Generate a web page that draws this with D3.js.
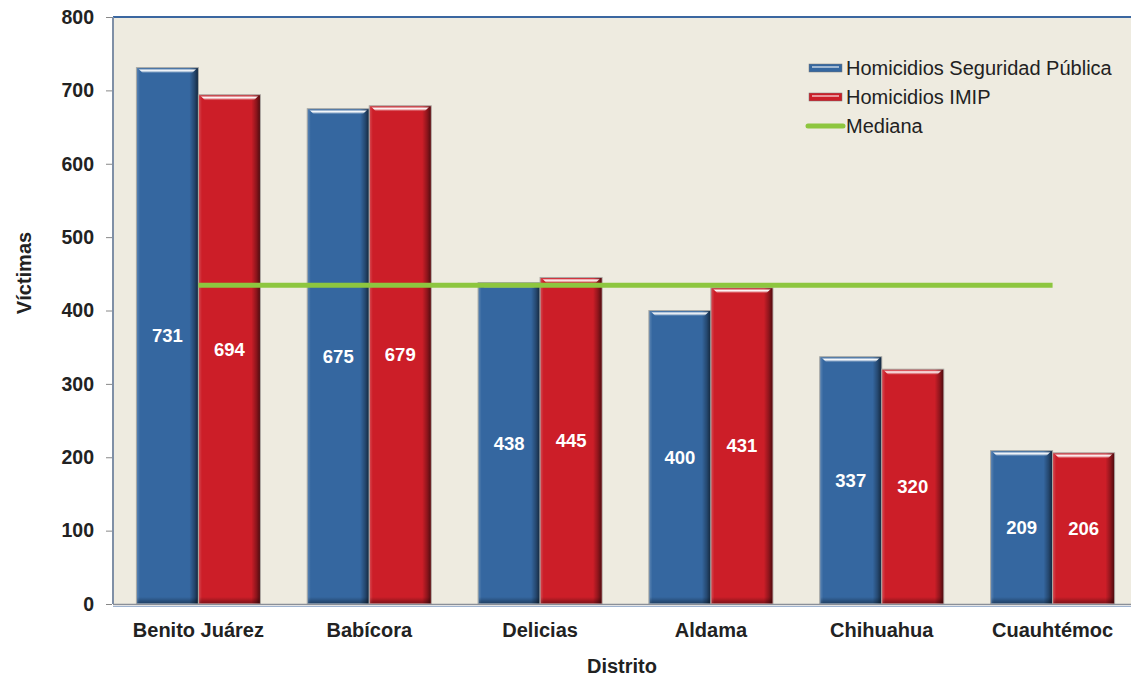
<!DOCTYPE html>
<html><head><meta charset="utf-8">
<script src="https://cdn.jsdelivr.net/npm/d3@7"></script>
<style>body{margin:0;background:#fff;}svg{display:block;font-family:"Liberation Sans",Arial,sans-serif;}</style>
</head><body>
<svg id="c" width="1131" height="677"></svg>
<script>
const categories = ["Benito Juárez","Babícora","Delicias","Aldama","Chihuahua","Cuauhtémoc"];
const seguridadPublica = [731,675,438,400,337,209];
const imip = [694,679,445,431,320,206];
const mediana = 434.5;
const seriesNames = ["Homicidios Seguridad Pública","Homicidios IMIP","Mediana"];
const yTicks = [0,100,200,300,400,500,600,700,800];
const axisTitles = {x:"Distrito", y:"Víctimas"};

const svg = d3.select("#c");
const L=113, R=1138, T=17, B=604;
const x = d3.scaleBand().domain(categories).range([L,R]).paddingInner(0.274).paddingOuter(0.137);
const x1 = d3.scaleBand().domain([0,1]).range([0,x.bandwidth()]);
const y = d3.scaleLinear().domain([0,800]).range([B,T]);

const defs = svg.append("defs");
function hgrad(id){
  const g=defs.append("linearGradient").attr("id",id).attr("x1","0").attr("x2","1").attr("y1","0").attr("y2","0");
  [[0,"#fff",0.18],[0.05,"#fff",0],[0.86,"#000",0],[0.94,"#000",0.3],[1,"#000",0.6]].forEach(s=>g.append("stop").attr("offset",s[0]).attr("stop-color",s[1]).attr("stop-opacity",s[2]));
}
hgrad("hg");
function vgrad(id,c){
  const g=defs.append("linearGradient").attr("id",id).attr("x1","0").attr("x2","0").attr("y1","0").attr("y2","1");
  [[0,"#fff",0.2],[0.35,"#fff",0.95],[0.6,"#fff",0.6],[1,c,0]].forEach(s=>g.append("stop").attr("offset",s[0]).attr("stop-color",s[1]).attr("stop-opacity",s[2]));
}
vgrad("tgB","#3567a0"); vgrad("tgR","#cc1e28");
function bgrad(id){
  const g=defs.append("linearGradient").attr("id",id).attr("x1","0").attr("x2","0").attr("y1","0").attr("y2","1");
  [[0,"#000",0],[1,"#000",0.35]].forEach(s=>g.append("stop").attr("offset",s[0]).attr("stop-color",s[1]).attr("stop-opacity",s[2]));
}
bgrad("bg");

// plot background
svg.append("rect").attr("x",L).attr("y",T).attr("width",R-L).attr("height",B-T).attr("fill","#eeebe0");
svg.append("line").attr("x1",L).attr("x2",R).attr("y1",T).attr("y2",T).attr("stroke","#3b67a0").attr("stroke-width",2);
svg.append("line").attr("x1",L).attr("x2",L).attr("y1",T).attr("y2",B).attr("stroke","#7f8fa6").attr("stroke-width",2);

// y axis
const yAxis = d3.axisLeft(y).tickValues(yTicks).tickSize(6).tickPadding(12);
const ga = svg.append("g").attr("transform",`translate(${L-1},0)`).call(yAxis);
ga.select(".domain").remove();
ga.selectAll(".tick line").attr("stroke","#888");
ga.selectAll(".tick text").attr("font-size",19.5).attr("font-weight","bold").attr("fill","#222").attr("font-family","Liberation Sans, Arial, sans-serif");

const colors=["#3567a0","#cc1e28"];
const tg=["url(#tgB)","url(#tgR)"];
const data=[];
categories.forEach((c,i)=>{data.push({c,s:0,v:seguridadPublica[i]});data.push({c,s:1,v:imip[i]});});

const bars = svg.append("g").selectAll("g").data(data).join("g")
  .attr("transform",d=>`translate(${x(d.c)+x1(d.s)},0)`);
const w = x1.bandwidth();
bars.append("rect").attr("x",0).attr("y",d=>y(d.v)).attr("width",w).attr("height",d=>B-y(d.v))
  .attr("fill",d=>colors[d.s]).attr("stroke","#a9a9a4").attr("stroke-width",1);
bars.append("rect").attr("x",0.5).attr("y",d=>y(d.v)+0.5).attr("width",w-1).attr("height",d=>B-y(d.v)-1).attr("fill","url(#hg)");
bars.append("rect").attr("x",1).attr("y",B-7).attr("width",w-2).attr("height",6).attr("fill","url(#bg)");
bars.append("path").attr("d",d=>{const t=y(d.v);return `M2,${t+1}L${w-2},${t+1}L${w-7},${t+6}L7,${t+6}Z`;})
  .attr("fill",d=>tg[d.s]);
bars.append("text").attr("x",w/2).attr("y",d=>y(d.v/2)+6.5).attr("text-anchor","middle")
  .attr("font-size",18.5).attr("font-weight","bold").attr("fill","#fff").text(d=>d.v);

// baseline
svg.append("line").attr("x1",L).attr("x2",R).attr("y1",B+0.5).attr("y2",B+0.5).attr("stroke","#8a8f98").attr("stroke-width",1.5);
svg.append("line").attr("x1",L).attr("x2",R).attr("y1",B+2.5).attr("y2",B+2.5).attr("stroke","#9fb3cf").attr("stroke-width",1);

// median line
const xc = c=>x(c)+x.bandwidth()/2;
svg.append("line").attr("x1",xc(categories[0])).attr("x2",xc(categories[categories.length-1]))
  .attr("y1",y(mediana)).attr("y2",y(mediana)).attr("stroke","#8dc63f").attr("stroke-width",5);

// x labels
const gx = svg.append("g").attr("transform",`translate(0,${B})`).call(d3.axisBottom(x).tickSize(0).tickPadding(19));
gx.select(".domain").remove();
gx.selectAll(".tick text").attr("font-size",20).attr("font-weight","bold").attr("fill","#222").attr("font-family","Liberation Sans, Arial, sans-serif");

svg.append("text").attr("x",622).attr("y",673).attr("text-anchor","middle").attr("font-size",20).attr("font-weight","bold").attr("fill","#222").text(axisTitles.x);
svg.append("text").attr("transform","translate(31,273) rotate(-90)").attr("text-anchor","middle").attr("font-size",20).attr("font-weight","bold").attr("fill","#222").text(axisTitles.y);

// legend
const lg = svg.append("g");
seriesNames.forEach((n,i)=>{
  const yy = 68+i*29;
  if(i<2){
    lg.append("rect").attr("x",809).attr("y",yy-4).attr("width",33).attr("height",8).attr("fill",colors[i]).attr("stroke","#777").attr("stroke-width",0.5);
    lg.append("line").attr("x1",812).attr("x2",839).attr("y1",yy-1).attr("y2",yy-1).attr("stroke","#fff").attr("stroke-opacity",0.7).attr("stroke-width",1.5);
  } else {
    lg.append("line").attr("x1",808).attr("x2",843).attr("y1",yy).attr("y2",yy).attr("stroke","#8dc63f").attr("stroke-width",5).attr("stroke-linecap","round");
  }
  lg.append("text").attr("x",846).attr("y",yy+7).attr("font-size",20).attr("fill","#222").text(n);
});
</script>
</body></html>
